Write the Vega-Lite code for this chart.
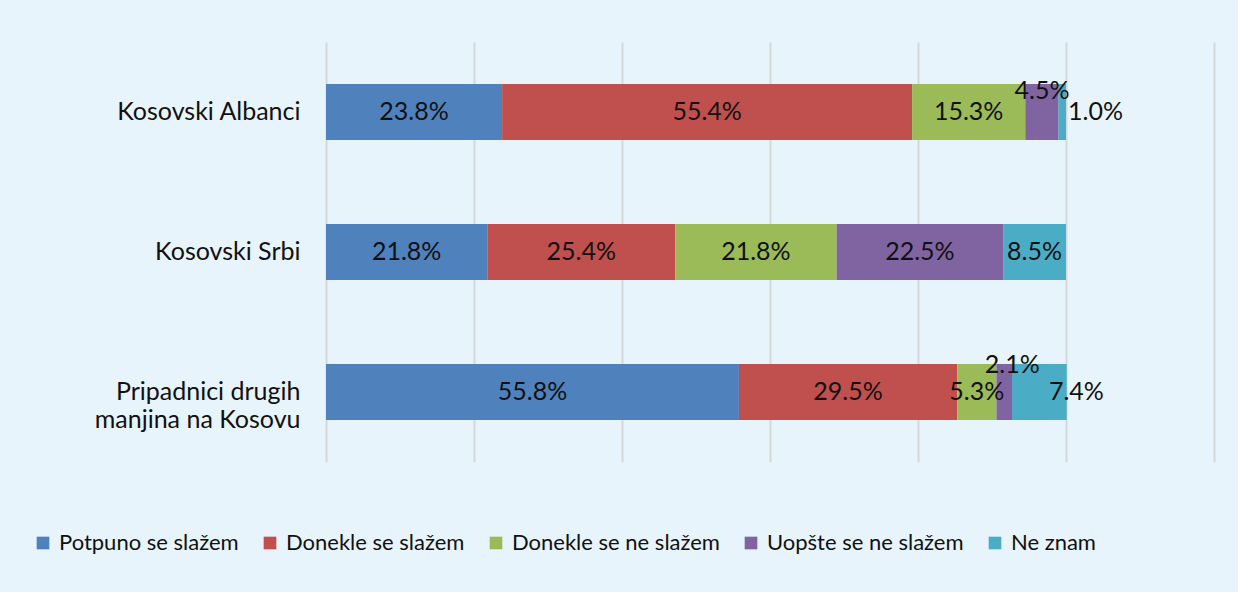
{
  "$schema": "https://vega.github.io/schema/vega-lite/v6.json",
  "width": 888,
  "height": 420,
  "autosize": {"type": "none"},
  "padding": {"left": 326, "top": 42, "right": 24, "bottom": 130},
  "background": "#e8f4fb",
  "config": {
    "view": {"stroke": null},
    "font": "Lato",
    "text": {"font": "Lato", "fontSize": 25, "color": "#111111"}
  },
  "data": {
    "values": [
      {"group": "Kosovski Albanci", "category": "Potpuno se slažem", "k": 1, "value": 23.8},
      {"group": "Kosovski Albanci", "category": "Donekle se slažem", "k": 2, "value": 55.4},
      {"group": "Kosovski Albanci", "category": "Donekle se ne slažem", "k": 3, "value": 15.3},
      {"group": "Kosovski Albanci", "category": "Uopšte se ne slažem", "k": 4, "value": 4.5},
      {"group": "Kosovski Albanci", "category": "Ne znam", "k": 5, "value": 1.0},
      {"group": "Kosovski Srbi", "category": "Potpuno se slažem", "k": 1, "value": 21.8},
      {"group": "Kosovski Srbi", "category": "Donekle se slažem", "k": 2, "value": 25.4},
      {"group": "Kosovski Srbi", "category": "Donekle se ne slažem", "k": 3, "value": 21.8},
      {"group": "Kosovski Srbi", "category": "Uopšte se ne slažem", "k": 4, "value": 22.5},
      {"group": "Kosovski Srbi", "category": "Ne znam", "k": 5, "value": 8.5},
      {"group": "Pripadnici drugih manjina na Kosovu", "category": "Potpuno se slažem", "k": 1, "value": 55.8},
      {"group": "Pripadnici drugih manjina na Kosovu", "category": "Donekle se slažem", "k": 2, "value": 29.5},
      {"group": "Pripadnici drugih manjina na Kosovu", "category": "Donekle se ne slažem", "k": 3, "value": 5.3},
      {"group": "Pripadnici drugih manjina na Kosovu", "category": "Uopšte se ne slažem", "k": 4, "value": 2.1},
      {"group": "Pripadnici drugih manjina na Kosovu", "category": "Ne znam", "k": 5, "value": 7.4}
    ]
  },
  "transform": [
    {"stack": "value", "groupby": ["group"], "sort": [{"field": "k", "order": "ascending"}], "as": ["v0", "v1"]},
    {"calculate": "(datum.v0 + datum.v1) / 2", "as": "mid"},
    {"calculate": "format(datum.value, '.1f') + '%'", "as": "label"}
  ],
  "encoding": {
    "y": {
      "field": "group",
      "type": "nominal",
      "sort": ["Kosovski Albanci", "Kosovski Srbi", "Pripadnici drugih manjina na Kosovu"],
      "scale": {"paddingInner": 0.6, "paddingOuter": 0.3},
      "axis": {
        "title": null,
        "domain": false,
        "ticks": false,
        "labelFont": "Lato",
        "labelFontSize": 25,
        "labelColor": "#111111",
        "labelPadding": 26,
        "labelLineHeight": 28,
        "labelLimit": 320,
        "labelExpr": "datum.value == 'Pripadnici drugih manjina na Kosovu' ? ['Pripadnici drugih', 'manjina na Kosovu'] : datum.value"
      }
    }
  },
  "layer": [
    {
      "mark": {"type": "bar"},
      "encoding": {
        "x": {
          "field": "v0",
          "type": "quantitative",
          "scale": {"domain": [0, 120], "nice": false},
          "axis": {
            "title": null,
            "labels": false,
            "ticks": false,
            "domain": false,
            "grid": true,
            "values": [0, 20, 40, 60, 80, 100, 120],
            "gridColor": "#d4d8da",
            "gridWidth": 2
          }
        },
        "x2": {"field": "v1"},
        "color": {
          "field": "category",
          "type": "nominal",
          "scale": {
            "domain": ["Potpuno se slažem", "Donekle se slažem", "Donekle se ne slažem", "Uopšte se ne slažem", "Ne znam"],
            "range": ["#4f81bd", "#c0504d", "#9bbb59", "#8064a2", "#4bacc6"]
          },
          "legend": {
            "title": null,
            "orient": "none",
            "direction": "horizontal",
            "legendX": -294,
            "legendY": 490,
            "symbolType": "square",
            "symbolSize": 160,
            "symbolStrokeWidth": 0,
            "labelFont": "Lato",
            "labelFontSize": 22,
            "labelColor": "#111111",
            "labelOffset": 5,
            "columnPadding": 20,
            "labelLimit": 400
          }
        }
      }
    },
    {
      "transform": [{"filter": "!((datum.group == 'Kosovski Albanci' && datum.k >= 4) || (datum.group == 'Pripadnici drugih manjina na Kosovu' && datum.k >= 4))"}],
      "mark": {"type": "text", "align": "center", "baseline": "middle"},
      "encoding": {
        "x": {"field": "mid", "type": "quantitative"},
        "text": {"field": "label"}
      }
    },
    {
      "transform": [{"filter": "datum.group == 'Kosovski Albanci' && datum.k == 4"}],
      "mark": {"type": "text", "align": "center", "baseline": "middle", "dy": -21},
      "encoding": {
        "x": {"field": "mid", "type": "quantitative"},
        "text": {"field": "label"}
      }
    },
    {
      "transform": [{"filter": "datum.group == 'Kosovski Albanci' && datum.k == 5"}],
      "mark": {"type": "text", "align": "left", "baseline": "middle", "dx": 2},
      "encoding": {
        "x": {"field": "v1", "type": "quantitative"},
        "text": {"field": "label"}
      }
    },
    {
      "transform": [{"filter": "datum.group == 'Pripadnici drugih manjina na Kosovu' && datum.k == 4"}],
      "mark": {"type": "text", "align": "center", "baseline": "middle", "dx": 8, "dy": -27},
      "encoding": {
        "x": {"field": "mid", "type": "quantitative"},
        "text": {"field": "label"}
      }
    },
    {
      "transform": [{"filter": "datum.group == 'Pripadnici drugih manjina na Kosovu' && datum.k == 5"}],
      "mark": {"type": "text", "align": "center", "baseline": "middle", "dx": 37},
      "encoding": {
        "x": {"field": "mid", "type": "quantitative"},
        "text": {"field": "label"}
      }
    }
  ]
}
